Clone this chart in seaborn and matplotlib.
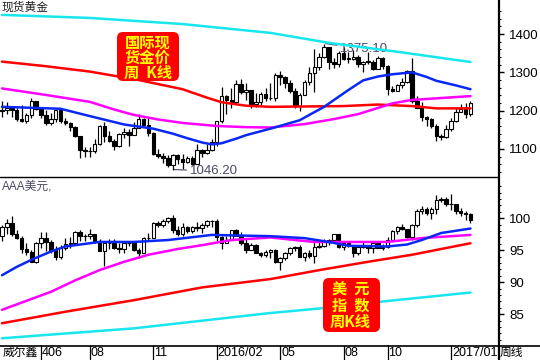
import numpy as np
import pandas as pd
import matplotlib
matplotlib.use('Agg')
import matplotlib.pyplot as plt
from matplotlib.patches import FancyBboxPatch
from matplotlib.lines import Line2D
import seaborn as sns

sns.set_theme(style='white')
plt.rcParams['font.family'] = ['Liberation Sans', 'Noto Sans CJK SC', 'DejaVu Sans']

# weekly gold, week 0 = 2015-04-03 ... week 96 = 2017-02-03
gold_first_open = 1199
gold_close = [1201, 1207, 1203, 1178, 1174, 1189, 1225, 1205, 1190, 1168,
              1179, 1201, 1173, 1168, 1157, 1133, 1098, 1094, 1094, 1113,
              1160, 1134, 1121, 1108, 1138, 1145, 1137, 1156, 1177, 1162,
              1142, 1088, 1081, 1076, 1057, 1084, 1075, 1065, 1076, 1061,
              1098, 1089, 1097, 1118, 1174, 1239, 1227, 1222, 1270, 1250,
              1255, 1217, 1222, 1243, 1234, 1233, 1294, 1289, 1272, 1252,
              1212, 1242, 1275, 1298, 1315, 1340, 1366, 1327, 1322, 1351,
              1335, 1336, 1341, 1321, 1327, 1328, 1310, 1337, 1316, 1257,
              1252, 1267, 1276, 1304, 1225, 1208, 1183, 1178, 1159, 1134,
              1132, 1152, 1173, 1196, 1205, 1191, 1220]
gold_high = [1224, 1223, 1209, 1206, 1214, 1194, 1232, 1226, 1208, 1201,
             1193, 1205, 1205, 1180, 1170, 1160, 1134, 1105, 1104, 1126,
             1162, 1170, 1146, 1126, 1141, 1156, 1151, 1170, 1191, 1180,
             1180, 1144, 1099, 1090, 1084, 1088, 1088, 1088, 1081, 1081,
             1112, 1100, 1112, 1127, 1174, 1263, 1240, 1260, 1281, 1283,
             1272, 1255, 1245, 1250, 1260, 1272, 1297, 1304, 1290, 1279,
             1260, 1245, 1279, 1315, 1362, 1350, 1375.1, 1366, 1337, 1355,
             1367, 1352, 1358, 1346, 1330, 1352, 1331, 1343, 1341, 1318,
             1264, 1270, 1285, 1307, 1337, 1237, 1222, 1187, 1180, 1164,
             1139, 1163, 1182, 1207, 1217, 1220, 1226]
gold_low = [1183, 1192, 1183, 1174, 1170, 1168, 1182, 1201, 1181, 1162,
            1162, 1170, 1169, 1162, 1147, 1131, 1077, 1078, 1080, 1090,
            1111, 1118, 1118, 1098, 1105, 1128, 1108, 1136, 1155, 1159,
            1135, 1084, 1076, 1064, 1052, 1046.2, 1061, 1049, 1064, 1058,
            1061, 1080, 1087, 1096, 1107, 1167, 1191, 1208, 1217, 1243,
            1229, 1208, 1209, 1215, 1225, 1229, 1224, 1268, 1260, 1245,
            1208, 1199, 1241, 1268, 1250, 1306, 1337, 1310, 1311, 1314,
            1331, 1325, 1332, 1315, 1302, 1323, 1306, 1308, 1310, 1241,
            1250, 1252, 1260, 1272, 1219, 1206, 1172, 1161, 1156, 1122,
            1124, 1129, 1147, 1170, 1196, 1180, 1186]

usd_first_open = 97.3
usd_close = [98.6, 99.3, 97.5, 96.9, 95.2, 94.8, 93.1, 96.2, 96.9, 96.3,
             95.1, 94.0, 95.4, 96.0, 96.1, 97.9, 97.2, 97.3, 97.6, 96.5,
             94.9, 96.1, 96.2, 95.3, 95.2, 96.1, 96.1, 95.0, 94.6, 96.9,
             96.9, 99.3, 99.0, 99.6, 100.0, 98.2, 97.6, 98.7, 98.0, 98.6,
             98.5, 99.0, 99.6, 99.6, 97.0, 96.1, 96.6, 98.1, 97.3, 96.2,
             95.1, 95.9, 94.6, 94.2, 94.7, 95.1, 93.1, 93.8, 94.6, 95.3,
             95.5, 94.0, 94.6, 94.1, 95.5, 95.6, 96.3, 96.6, 97.5, 95.5,
             96.2, 95.7, 94.5, 95.5, 95.8, 95.3, 96.1, 95.4, 95.5, 96.6,
             98.0, 98.7, 98.4, 97.1, 98.9, 101.2, 101.5, 100.8, 101.5, 102.9,
             103.0, 102.2, 102.3, 101.2, 100.8, 100.6, 99.8]
usd_high = [99.0, 99.9, 100.4, 98.2, 97.2, 96.1, 95.0, 96.3, 97.8, 97.8,
            96.6, 95.6, 95.9, 96.9, 97.0, 98.0, 98.1, 97.6, 98.3, 97.6,
            96.7, 96.4, 96.7, 96.7, 96.1, 96.5, 96.4, 96.3, 95.3, 97.1,
            97.7, 99.4, 99.6, 99.9, 100.2, 100.5, 98.8, 99.3, 98.8, 98.8,
            99.4, 99.2, 99.7, 99.8, 99.9, 97.2, 97.3, 98.2, 98.4, 97.8,
            96.7, 96.2, 96.0, 94.8, 95.1, 95.2, 95.2, 94.0, 94.7, 95.5,
            95.7, 95.9, 94.7, 95.0, 96.7, 96.5, 96.7, 96.8, 97.6, 97.6,
            96.3, 96.4, 95.8, 95.6, 96.3, 95.9, 96.2, 96.2, 96.0, 97.0,
            98.1, 98.8, 99.1, 98.4, 99.1, 101.5, 101.9, 101.8, 101.7, 103.6,
            103.4, 103.3, 103.8, 102.3, 101.6, 101.1, 100.8]
usd_low = [96.5, 97.5, 97.3, 96.7, 94.6, 94.2, 93.1, 93.0, 95.4, 94.9,
           94.6, 93.5, 93.6, 95.0, 95.4, 95.9, 96.4, 96.4, 96.8, 96.1,
           94.9, 92.6, 95.2, 95.2, 94.6, 94.6, 95.6, 94.9, 93.8, 94.6,
           96.4, 96.9, 98.7, 98.6, 99.3, 97.7, 97.3, 97.3, 97.7, 97.7,
           98.0, 97.7, 98.6, 98.6, 96.5, 95.2, 96.1, 96.6, 97.2, 95.9,
           94.6, 95.0, 94.5, 93.9, 93.9, 93.8, 93.0, 91.9, 93.5, 94.3,
           94.9, 93.9, 93.4, 93.8, 93.0, 95.4, 95.5, 95.8, 96.5, 95.4,
           95.0, 95.5, 93.9, 94.3, 95.4, 94.5, 94.6, 95.3, 95.0, 95.4,
           96.5, 97.5, 98.1, 96.9, 96.6, 98.7, 100.6, 100.5, 99.9, 100.6,
           102.6, 101.9, 101.3, 100.7, 100.3, 99.7, 99.2]

# moving average lines (week, value)
gold_ma_cyan_wk = [0, 18, 37, 55, 67, 82, 96]
gold_ma_cyan = [1450, 1442, 1426, 1403, 1377, 1352, 1327]
gold_ma_red_wk = [0, 9, 18, 28, 37, 42, 45, 50, 55, 70, 77, 84, 89, 96]
gold_ma_red = [1328, 1316, 1302, 1280, 1256, 1234, 1222, 1213, 1210, 1212, 1216, 1212, 1206, 1206]
gold_ma_mag_wk = [0, 9, 18, 23, 27, 32, 37, 44, 50, 55, 62, 68, 73, 80, 84, 90, 96]
gold_ma_mag = [1258, 1241, 1223, 1203, 1189, 1177, 1168, 1160, 1157, 1156, 1165, 1178,
               1191, 1219, 1228, 1233, 1238]
gold_ma_blue_wk = [0, 12, 17, 25, 31, 35, 38, 41, 43, 45, 48, 50, 55, 61, 66, 71, 74, 77,
                   80, 84, 87, 89, 93, 96]
gold_ma_blue = [1210, 1205, 1189, 1164, 1153, 1140, 1128, 1117, 1112, 1115, 1127, 1136,
                1153, 1175, 1210, 1254, 1279, 1289, 1295, 1300, 1288, 1278, 1266, 1256]

usd_ma_blue_wk = [0, 3, 6, 10, 13, 20, 27, 34, 43, 55, 62, 67, 71, 79, 83, 86, 90, 96]
usd_ma_blue = [91.1, 92.4, 93.5, 94.8, 95.6, 96.3, 96.3, 96.6, 97.4, 97.2, 96.9, 96.3,
               95.7, 95.6, 95.9, 96.6, 97.7, 98.4]
usd_ma_mag_wk = [0, 5, 10, 15, 20, 25, 30, 36, 41, 47, 55, 64, 79, 86, 96]
usd_ma_mag = [85.7, 87.1, 88.5, 90.3, 91.9, 93.2, 94.3, 95.2, 95.8, 96.6, 97.0, 96.3,
              96.3, 96.9, 97.4]
usd_ma_red_wk = [0, 13, 27, 41, 55, 65, 75, 84, 96]
usd_ma_red = [83.6, 85.4, 87.2, 89.2, 90.5, 91.9, 93.2, 94.3, 96.1]
usd_ma_cyan_wk = [0, 27, 55, 65, 78, 96]
usd_ma_cyan = [81.25, 82.8, 85.2, 85.9, 87.0, 88.4]

tick_weeks = [8, 18, 31, 44, 57, 70, 79, 92]
tick_labels = ['406', '08', '11', '2016/02', '05', '08', '10', '2017/01']

CYAN, RED, MAG, BLUE = '#18e6ee', '#ff0000', '#ff00ff', '#0a28f5'


def draw_candles(ax, first_open, high, low, close):
    df = pd.DataFrame({'week': np.arange(len(close)), 'h': high, 'l': low, 'c': close})
    df['o'] = df['c'].shift(1).fillna(first_open)
    up = df['c'] >= df['o']
    ax.vlines(df['week'], df['l'], df['h'], color='black', lw=0.9, zorder=2)
    bottom = df[['o', 'c']].min(axis=1)
    span = (df['h'].max() - df['l'].min()) * 0.004
    height = np.maximum((df['c'] - df['o']).abs(), span)
    ax.bar(df['week'], height, bottom=bottom, width=0.72,
           color=np.where(up, 'white', 'black'), edgecolor='black', linewidth=0.8, zorder=3)


def draw_ma(ax, wk, vals, color):
    sns.lineplot(x=wk, y=vals, ax=ax, color=color, lw=1.8, sort=False,
                 estimator=None, zorder=4, legend=False)


fig = plt.figure(figsize=(5.4, 3.6), dpi=100)
ax1 = fig.add_axes([0, (360 - 177) / 360, 498 / 540, 177 / 360])
ax2 = fig.add_axes([0, (360 - 345) / 360, 498 / 540, 168 / 360])

draw_candles(ax1, gold_first_open, gold_high, gold_low, gold_close)
draw_ma(ax1, gold_ma_cyan_wk, gold_ma_cyan, CYAN)
draw_ma(ax1, gold_ma_red_wk, gold_ma_red, RED)
draw_ma(ax1, gold_ma_mag_wk, gold_ma_mag, MAG)
draw_ma(ax1, gold_ma_blue_wk, gold_ma_blue, BLUE)

draw_candles(ax2, usd_first_open, usd_high, usd_low, usd_close)
draw_ma(ax2, usd_ma_cyan_wk, usd_ma_cyan, CYAN)
draw_ma(ax2, usd_ma_red_wk, usd_ma_red, RED)
draw_ma(ax2, usd_ma_mag_wk, usd_ma_mag, MAG)
draw_ma(ax2, usd_ma_blue_wk, usd_ma_blue, BLUE)

xlim = (-0.41, 101.64)
ax1.set_xlim(*xlim)
ax2.set_xlim(*xlim)
ax1.set_ylim(1026.9, 1488.8)
ax2.set_ylim(80.2, 106.45)

for ax, major, minor in [(ax1, [1100, 1200, 1300, 1400], np.arange(1040, 1480, 20)),
                         (ax2, [85, 90, 95, 100], np.arange(81, 106, 1.0))]:
    ax.set_facecolor('white')
    for s in ax.spines.values():
        s.set_visible(False)
    ax.set_xticks([])
    ax.set_xlabel('')
    ax.set_ylabel('')
    ax.yaxis.tick_right()
    ax.set_yticks(major)
    ax.set_yticks(minor, minor=True)
    ax.set_yticklabels([str(v) for v in major])
    ax.tick_params(axis='y', which='major', right=True, left=False, length=4, width=1,
                   color='black', pad=4, labelsize=9.5, labelcolor='black')
    ax.tick_params(axis='y', which='minor', right=True, left=False, length=2, width=0.8,
                   color='black')

# panel borders
fig.add_artist(Line2D([0, 498 / 540], [1 - 177 / 360] * 2, color='black', lw=1.0))
fig.add_artist(Line2D([0, 1], [1 - 345.5 / 360] * 2, color='black', lw=1.2))
fig.add_artist(Line2D([498.5 / 540] * 2, [0, 1], color='black', lw=1.6))

# bottom date row
xt = ax2.get_xaxis_transform()
ax2.vlines(tick_weeks, -15 / 168, 0, transform=xt, color='black', lw=0.9, clip_on=False)
for wk, lab in zip(tick_weeks, tick_labels):
    ax2.text(wk + 0.2, -8.5 / 168, lab, transform=xt, ha='left', va='center',
             fontsize=9, color='black')


def fx(px):
    return px / 540


def fy(py):
    return 1 - py / 360


fig.text(fx(3), fy(353), '威尔鑫', ha='left', va='center', fontsize=8.5, color='black')
fig.text(fx(500), fy(353), '周线', ha='left', va='center', fontsize=8.5, color='black')
fig.text(fx(2), fy(8), '现货黄金', ha='left', va='center', fontsize=8.5, color='#222222')
fig.text(fx(2), fy(186), 'AAA美元,', ha='left', va='center', fontsize=8.5, color='#4a4a62')

# high / low markers
ax1.annotate('1375.10', xy=(66.3, 1375.1), xytext=(69.3, 1360), ha='left', va='center',
             fontsize=9.5, color='#4a4a66',
             arrowprops=dict(arrowstyle='-', color='#4a4a66', lw=0.8, shrinkA=0, shrinkB=0))
ax1.annotate('1046.20', xy=(35.3, 1046.2), xytext=(38.5, 1043), ha='left', va='center',
             fontsize=9.5, color='#4a4a66',
             arrowprops=dict(arrowstyle='-', color='#4a4a66', lw=0.8, shrinkA=0, shrinkB=0))

# red label boxes
for (x0, y0, x1, y1) in [(117, 32, 179, 81), (323, 278, 380, 332)]:
    fig.add_artist(FancyBboxPatch((x0 / 100, (360 - y1) / 100), (x1 - x0) / 100, (y1 - y0) / 100,
                                  boxstyle='round,pad=0,rounding_size=0.06',
                                  transform=fig.dpi_scale_trans, fc='#ff0000', ec='none', zorder=5))

box_style = dict(ha='center', va='center', fontsize=11, color='#ffff00', fontweight='bold', zorder=6,
                 family=['Noto Sans CJK SC', 'DejaVu Sans'])
fig.text(fx(147.5), fy(43), '国际现', **box_style)
fig.text(fx(147.5), fy(58), '货金价', **box_style)
fig.text(fx(148), fy(73), '周  K线', **box_style)
fig.text(fx(350.5), fy(290), '美  元', **box_style)
fig.text(fx(350.5), fy(306), '指  数', **box_style)
fig.text(fx(350.5), fy(322), '周K线', **box_style)

fig.savefig('out.png', dpi=100)
